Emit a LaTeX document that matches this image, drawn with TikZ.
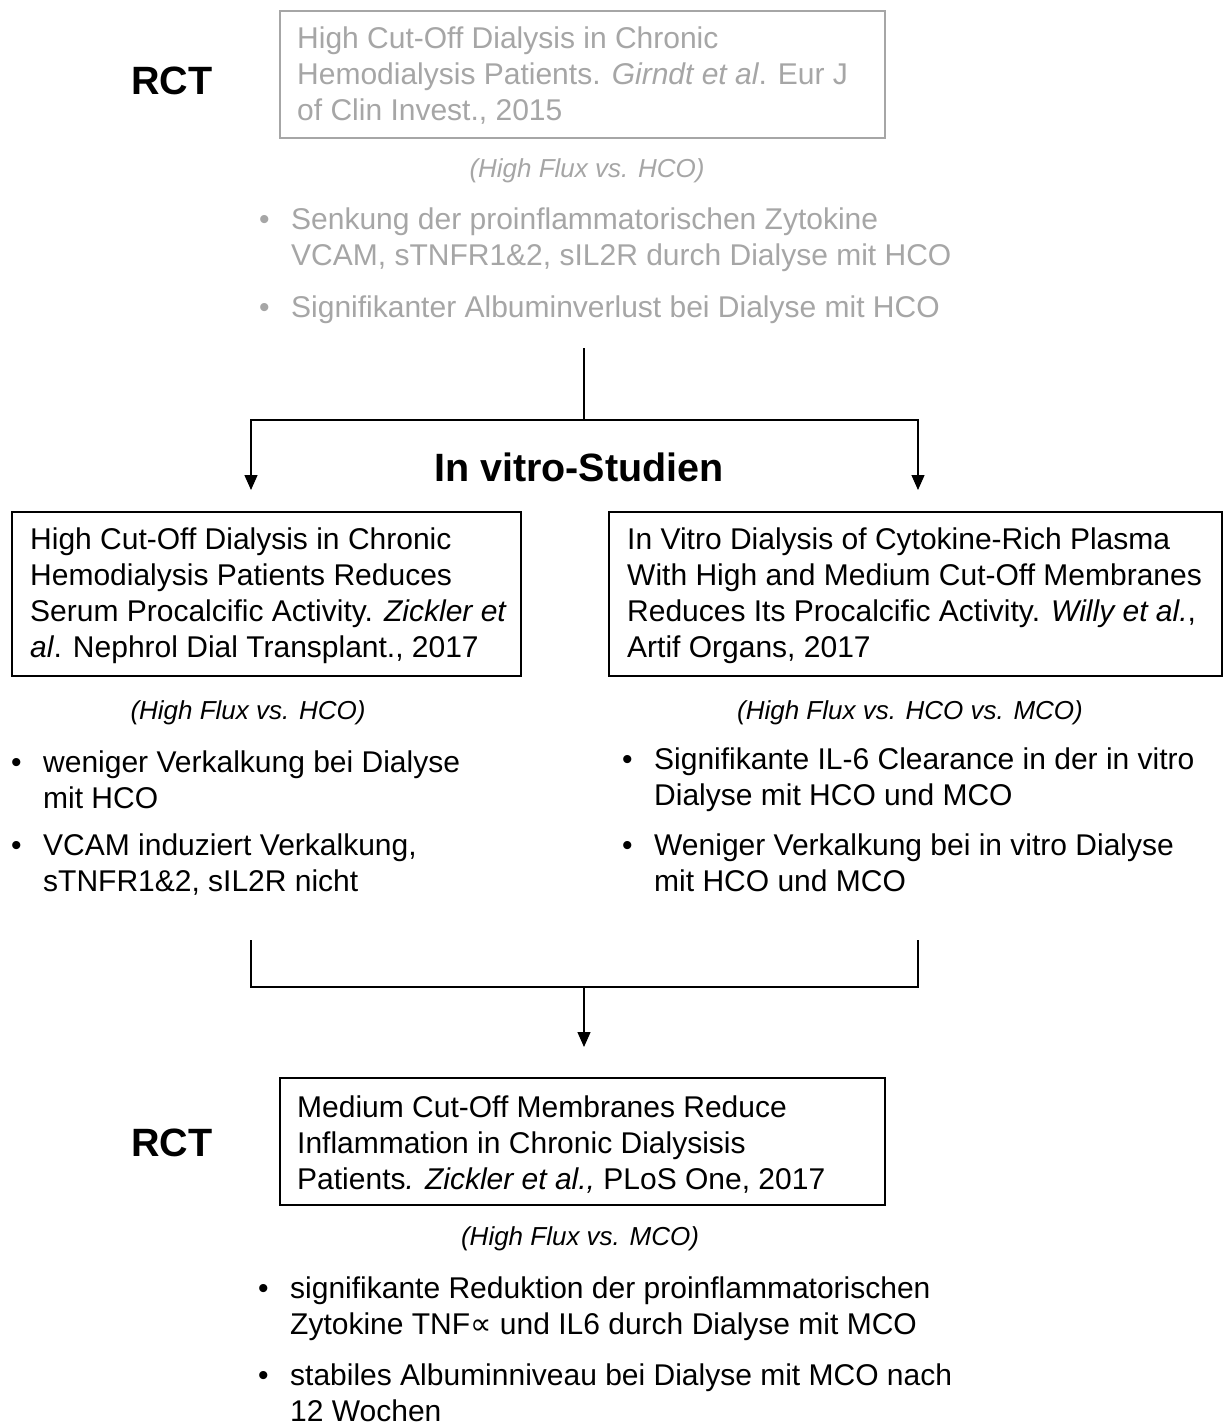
\documentclass[tikz,border=0pt]{standalone}
\usepackage{fontspec}
\setmainfont{Liberation Sans}
\newfontfamily\djv{DejaVu Sans}
\usetikzlibrary{arrows.meta}
\definecolor{lg}{RGB}{166,166,166}
\newcommand\bul[1]{\makebox[#1pt][l]{•}}
\begin{document}
\begin{tikzpicture}[x=1pt,y=-1pt,
  box/.style={draw, line width=1.8pt, inner sep=0pt, anchor=north west},
  txt/.style={font=\fontsize{30}{36}\selectfont, align=left, inner sep=0pt, anchor=west},
  sub/.style={font=\fontsize{26}{30}\selectfont\itshape, inner sep=0pt},
  head/.style={font=\fontsize{39.5}{44}\selectfont\bfseries, inner sep=0pt},
  conn/.style={line width=1.3pt},
  arr/.style={conn, -{Triangle[length=15pt,width=13pt]}}]
\useasboundingbox[fill=white] (0,0) rectangle (1223,1425);

% headings
\node[head] (rct1) at (172,81) {RCT};
\node[head] (rct2) at (172,1143) {RCT};
\node[head] (vitro) at (579,467) {In vitro-Studien};

% top study (gray)
\node[box, draw=lg, minimum width=605, minimum height=127] (top) at (279,10) {};
\node[txt, text=lg] (toptxt) at ([xshift=18,yshift=-1.5]top.west) {High Cut-Off Dialysis in Chronic\\Hemodialysis Patients. \textit{Girndt et al}. Eur J\\of Clin Invest., 2015};
\node[sub, text=lg] (topsub) at (587,171) {(High Flux vs. HCO)};
\node[txt, text=lg] (tb1) at (259,240) {\bul{32}Senkung der proinflammatorischen Zytokine\\\hspace*{32pt}VCAM, sTNFR1\&2, sIL2R durch Dialyse mit HCO};
\node[txt, text=lg] (tb2) at (259,310) {\bul{32}Signifikanter Albuminverlust bei Dialyse mit HCO};

% left study
\node[box, minimum width=509, minimum height=164] (lbox) at (11,511) {};
\node[txt] (ltxt) at ([xshift=19,yshift=-2]lbox.west) {High Cut-Off Dialysis in Chronic\\Hemodialysis Patients Reduces\\Serum Procalcific Activity. \textit{Zickler et}\\\textit{al}. Nephrol Dial Transplant., 2017};
\node[sub] (lsub) at (248,713) {(High Flux vs. HCO)};
\node[txt] (lb1) at (11,780) {\bul{32}weniger Verkalkung bei Dialyse\\\hspace*{32pt}mit HCO};
\node[txt] (lb2) at (11,865) {\bul{32}VCAM induziert Verkalkung,\\\hspace*{32pt}sTNFR1\&2, sIL2R nicht};

% right study
\node[box, minimum width=613, minimum height=164] (rbox) at (608,511) {};
\node[txt] (rtxt) at ([xshift=19,yshift=-2]rbox.west) {In Vitro Dialysis of Cytokine-Rich Plasma\\With High and Medium Cut-Off Membranes\\Reduces Its Procalcific Activity. \textit{Willy et al.},\\Artif Organs, 2017};
\node[sub] (rsub) at (910,713) {(High Flux vs. HCO vs. MCO)};
\node[txt] (rb1) at (622,780) {\bul{32}Signifikante IL-6 Clearance in der in vitro\\\hspace*{32pt}Dialyse mit HCO und MCO};
\node[txt] (rb2) at (622,863) {\bul{32}Weniger Verkalkung bei in vitro Dialyse\\\hspace*{32pt}mit HCO und MCO};

% bottom study
\node[box, minimum width=605, minimum height=127] (bbox) at (279,1077) {};
\node[txt] (btxt) at ([xshift=18,yshift=-3]bbox.west) {Medium Cut-Off Membranes Reduce\\Inflammation in Chronic Dialysisis\\Patients\textit{. Zickler et al.,} PLoS One, 2017};
\node[sub] (bsub) at (580,1239) {(High Flux vs. MCO)};
\node[txt] (bb1) at (258,1309) {\bul{32}signifikante Reduktion der proinflammatorischen\\\hspace*{32pt}Zytokine TNF{\djv ∝} und IL6 durch Dialyse mit MCO};
\node[txt] (bb2) at (258,1393) {\bul{32}stabiles Albuminniveau bei Dialyse mit MCO nach\\\hspace*{32pt}12 Wochen};

% connectors
\coordinate (s1) at (584,348);
\coordinate (j1) at (584,420);
\coordinate (la) at (251,490);
\coordinate (ra) at (918,490);
\draw[conn] (s1) -- (j1);
\draw[arr] (j1) -| (la);
\draw[arr] (j1) -| (ra);

\coordinate (lb) at (251,940);
\coordinate (rb) at (918,940);
\coordinate (j2) at (584,987);
\coordinate (ba) at (584,1047);
\draw[conn] (lb) |- (j2);
\draw[conn] (rb) |- (j2);
\draw[arr] (j2) -- (ba);
\end{tikzpicture}
\end{document}
